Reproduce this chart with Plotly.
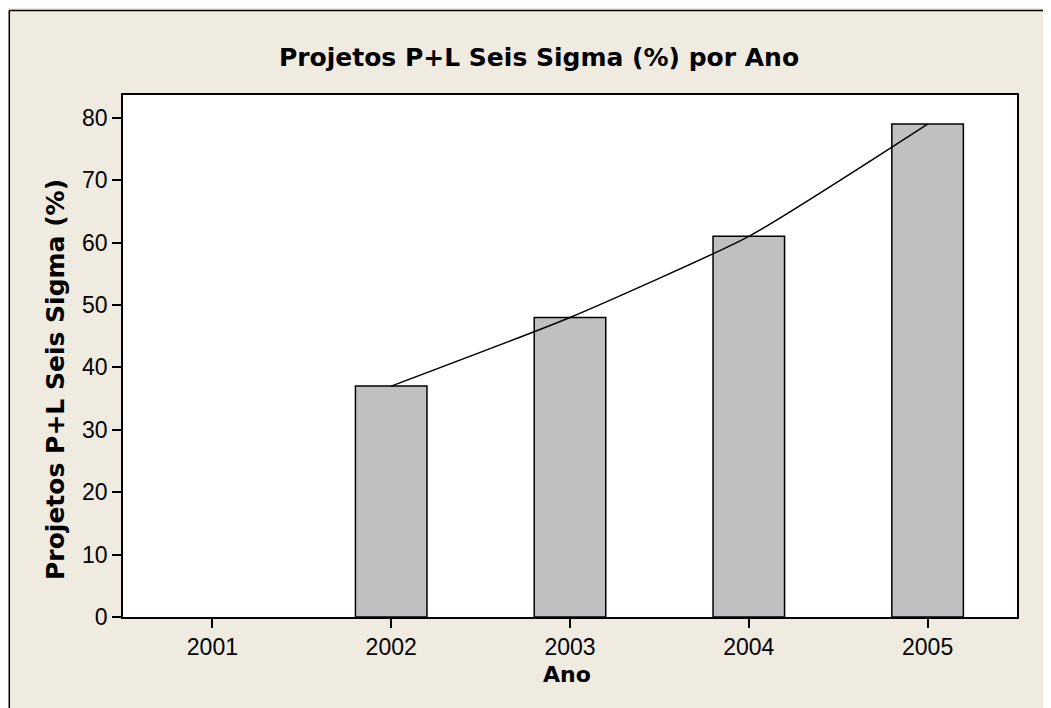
import plotly.graph_objects as go

anos = ["2001", "2002", "2003", "2004", "2005"]
percentual = [None, 37, 48, 61, 79]
y_ticks = [0, 10, 20, 30, 40, 50, 60, 70, 80]

titulo = "Projetos P+L Seis Sigma (%) por Ano"
titulo_y = "Projetos P+L Seis Sigma (%)"
titulo_x = "Ano"

# page is drawn with an 8px body offset
OFF = 8
W, H = 1051, 708
pw, ph = 894, 522
L, T = 123 - OFF, 95 - OFF
R, B = W - L - pw, H - T - ph


def px(xp):
    return (xp - OFF - L) / pw


def py(yp):
    return (T + ph - (yp - OFF)) / ph


fig = go.Figure()
fig.add_trace(go.Bar(
    x=anos, y=percentual, width=0.4,
    marker=dict(color="#C0C0C0", line=dict(color="black", width=1.5)),
    showlegend=False, hoverinfo="x+y",
))
fig.add_trace(go.Scatter(
    x=anos, y=percentual, mode="lines",
    line=dict(color="black", width=1.5, shape="spline", smoothing=0.5),
    showlegend=False, connectgaps=False,
))

font_fam = "Liberation Sans, Arial, sans-serif"
bold_fam = "DejaVu Sans, Verdana, sans-serif"

fig.update_layout(
    width=W, height=H,
    margin=dict(l=L, r=R, t=T, b=B, pad=0),
    paper_bgcolor="#EFEBE1",
    plot_bgcolor="white",
    title=dict(text="<b>" + titulo + "</b>", x=(539 - OFF) / W, xanchor="center",
               y=1 - (57 - OFF) / H, yanchor="middle",
               font=dict(family=bold_fam, size=25, color="black")),
    xaxis=dict(
        type="category", range=[-0.5, 4.5],
        showline=True, linecolor="black", linewidth=1.5, mirror=True,
        ticks="outside", ticklen=9, tickwidth=1.5, tickcolor="black",
        showgrid=False, zeroline=False,
        tickfont=dict(family=font_fam, size=23, color="black"),
    ),
    yaxis=dict(
        range=[0, 83.65], tickvals=y_ticks,
        showline=True, linecolor="black", linewidth=1.5, mirror=True,
        ticks="outside", ticklen=9, tickwidth=1.5, tickcolor="black",
        showgrid=False, zeroline=False,
        tickfont=dict(family=font_fam, size=23, color="black"),
    ),
    annotations=[
        dict(text="<b>" + titulo_x + "</b>", xref="paper", yref="paper",
             x=px(567), y=py(674), xanchor="center", yanchor="middle",
             showarrow=False, font=dict(family=bold_fam, size=22, color="black")),
        dict(text="<b>" + titulo_y + "</b>", xref="paper", yref="paper",
             x=px(56), y=py(380), xanchor="center", yanchor="middle",
             textangle=-90, showarrow=False,
             font=dict(family=bold_fam, size=25, color="black")),
    ],
    shapes=[
        dict(type="line", xref="paper", yref="paper",
             x0=px(9.3), x1=px(W + 40), y0=py(10.5), y1=py(10.5),
             line=dict(color="black", width=1.5)),
        dict(type="line", xref="paper", yref="paper",
             x0=px(9.3), x1=px(9.3), y0=py(10.5), y1=py(H + 40),
             line=dict(color="black", width=1.5)),
    ],
)

fig.write_html("out.html")
